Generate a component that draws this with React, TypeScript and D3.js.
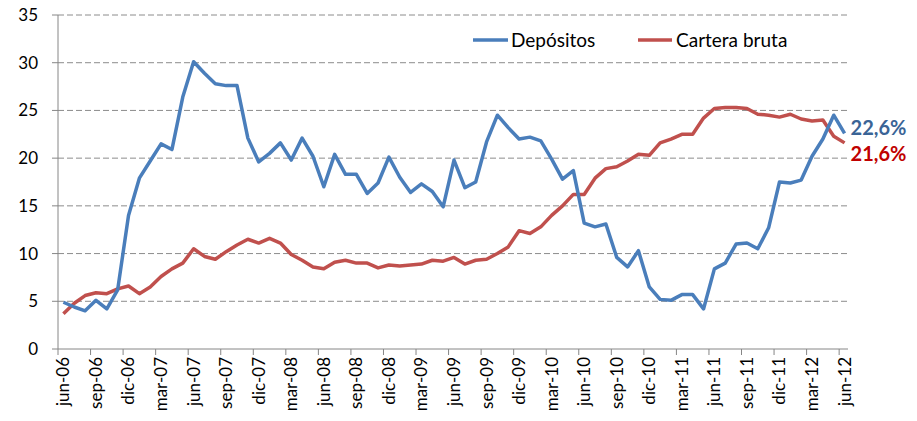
import React from 'react'
import * as d3 from 'd3'

const monthNames = ['ene', 'feb', 'mar', 'abr', 'may', 'jun', 'jul', 'ago', 'sep', 'oct', 'nov', 'dic']

// jun-06 .. jun-12, monthly
const categories: string[] = []
for (let k = 0; k < 73; k++) {
  const m = (5 + k) % 12
  const yr = 6 + Math.floor((5 + k) / 12)
  categories.push(`${monthNames[m]}-${String(yr).padStart(2, '0')}`)
}

const depositos = [
  4.9, 4.4, 4.0, 5.1, 4.2, 6.2, 14.0, 17.9, 19.7, 21.5, 20.9, 26.4,
  30.1, 28.9, 27.8, 27.6, 27.6, 22.1, 19.6, 20.5, 21.6, 19.8, 22.1, 20.2,
  17.0, 20.4, 18.3, 18.3, 16.3, 17.4, 20.1, 18.0, 16.4, 17.3, 16.5, 14.9,
  19.8, 16.9, 17.5, 21.7, 24.5, 23.2, 22.0, 22.2, 21.8, 19.9, 17.8, 18.7,
  13.2, 12.8, 13.1, 9.6, 8.6, 10.3, 6.5, 5.2, 5.1, 5.7, 5.7, 4.2,
  8.4, 9.0, 11.0, 11.1, 10.5, 12.7, 17.5, 17.4, 17.7, 20.2, 22.0, 24.5,
  22.6,
]

const carteraBruta = [
  3.7, 4.8, 5.6, 5.9, 5.8, 6.3, 6.6, 5.8, 6.5, 7.6, 8.4, 9.0,
  10.5, 9.7, 9.4, 10.2, 10.9, 11.5, 11.1, 11.6, 11.1, 9.9, 9.3, 8.6,
  8.4, 9.1, 9.3, 9.0, 9.0, 8.5, 8.8, 8.7, 8.8, 8.9, 9.3, 9.2,
  9.6, 8.9, 9.3, 9.4, 10.0, 10.7, 12.4, 12.1, 12.8, 14.0, 15.0, 16.2,
  16.2, 17.9, 18.9, 19.1, 19.7, 20.4, 20.3, 21.6, 22.0, 22.5, 22.5, 24.2,
  25.2, 25.3, 25.3, 25.2, 24.6, 24.5, 24.3, 24.6, 24.1, 23.9, 24.0, 22.3,
  21.6,
]

const yTicks = [0, 5, 10, 15, 20, 25, 30, 35]
const endLabels = ['22,6%', '21,6%']

const W = 917
const H = 421
const left = 58
const right = 850
const top = 15
const bottom = 349
const font = 'Lato, "Open Sans", sans-serif'

export default function App() {
  const x = d3.scaleBand<number>().domain(d3.range(categories.length)).range([left, right])
  const y = d3.scaleLinear().domain([0, 35]).range([bottom, top])
  const cx = (i: number) => (x(i) as number) + x.bandwidth() / 2

  const line = d3.line<number>().x((_, i) => cx(i)).y((d) => y(d))

  const tickIdx = d3.range(0, categories.length, 3)
  const last = categories.length - 1

  return (
    <svg width={W} height={H} style={{ position: 'absolute', left: 0, top: 0 }}>
      <rect width={W} height={H} fill="#fff" />
      {/* grid */}
      {yTicks.filter((t) => t > 0).map((t) => (
        <line key={t} x1={left} x2={right - 2} y1={y(t)} y2={y(t)}
          stroke="#8c8c8c" strokeWidth={1} strokeDasharray="6,3" />
      ))}
      {/* axes */}
      <line x1={left} x2={left} y1={top} y2={bottom} stroke="#868686" />
      <line x1={left} x2={right - 2} y1={bottom} y2={bottom} stroke="#868686" />
      {yTicks.map((t) => (
        <g key={t}>
          <line x1={left - 6} x2={left} y1={y(t)} y2={y(t)} stroke="#868686" />
          <text x={38} y={y(t)} dy="0.35em" textAnchor="end" fontFamily={font} fontSize={17} fill="#000">{t}</text>
        </g>
      ))}
      {tickIdx.map((i) => (
        <line key={i} x1={x(i) as number} x2={x(i) as number} y1={bottom} y2={bottom + 6} stroke="#868686" />
      ))}
      {tickIdx.map((i) => (
        <text key={i} transform={`translate(${cx(i)},${bottom + 8}) rotate(-90)`} dy="0.35em"
          textAnchor="end" fontFamily={font} fontSize={17} fill="#000">{categories[i]}</text>
      ))}
      {/* series */}
      <path d={line(carteraBruta) as string} fill="none" stroke="#C0504D" strokeWidth={3.5} strokeLinejoin="round" />
      <path d={line(depositos) as string} fill="none" stroke="#4A7EBB" strokeWidth={3.5} strokeLinejoin="round" />
      {/* end labels */}
      <text x={cx(last) + 6} y={y(depositos[last]) - 5} dy="0.35em" fontFamily={font} fontSize={20} fontWeight="bold" fill="#3A6496">{endLabels[0]}</text>
      <text x={cx(last) + 6} y={y(carteraBruta[last]) + 11} dy="0.35em" fontFamily={font} fontSize={20} fontWeight="bold" fill="#C00000">{endLabels[1]}</text>
      {/* legend */}
      <line x1={473} x2={508} y1={40} y2={40} stroke="#4A7EBB" strokeWidth={3.5} />
      <text x={511} y={40} dy="0.35em" fontFamily={font} fontSize={19} fill="#000">Depósitos</text>
      <line x1={638} x2={672} y1={40} y2={40} stroke="#C0504D" strokeWidth={3.5} />
      <text x={676} y={40} dy="0.35em" fontFamily={font} fontSize={19} fill="#000">Cartera bruta</text>
    </svg>
  )
}
